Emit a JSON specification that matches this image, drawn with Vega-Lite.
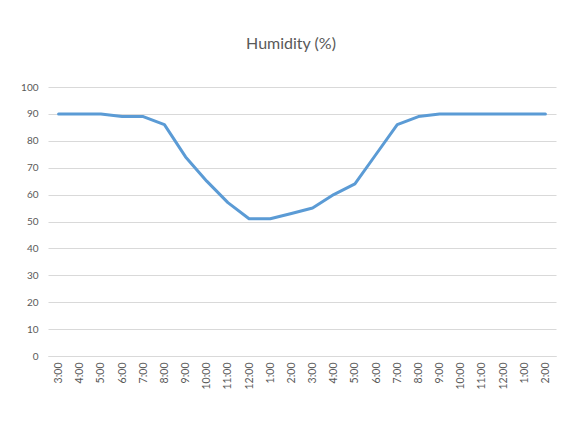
{
  "$schema": "https://vega.github.io/schema/vega-lite/v6.json",
  "autosize": {"type": "none"},
  "width": 508,
  "height": 269,
  "padding": {"left": 48, "top": 87, "right": 12, "bottom": 65},
  "background": "white",
  "title": {
    "text": "Humidity (%)",
    "font": "Lato",
    "fontSize": 16,
    "fontWeight": "normal",
    "color": "#595959",
    "anchor": "middle",
    "dx": -11,
    "offset": 30
  },
  "data": {
    "values": [
      {"time": "3:00 AM", "humidity": 90},
      {"time": "4:00 AM", "humidity": 90},
      {"time": "5:00 AM", "humidity": 90},
      {"time": "6:00 AM", "humidity": 89},
      {"time": "7:00 AM", "humidity": 89},
      {"time": "8:00 AM", "humidity": 86},
      {"time": "9:00 AM", "humidity": 74},
      {"time": "10:00 AM", "humidity": 65},
      {"time": "11:00 AM", "humidity": 57},
      {"time": "12:00 PM", "humidity": 51},
      {"time": "1:00 PM", "humidity": 51},
      {"time": "2:00 PM", "humidity": 53},
      {"time": "3:00 PM", "humidity": 55},
      {"time": "4:00 PM", "humidity": 60},
      {"time": "5:00 PM", "humidity": 64},
      {"time": "6:00 PM", "humidity": 75},
      {"time": "7:00 PM", "humidity": 86},
      {"time": "8:00 PM", "humidity": 89},
      {"time": "9:00 PM", "humidity": 90},
      {"time": "10:00 PM", "humidity": 90},
      {"time": "11:00 PM", "humidity": 90},
      {"time": "12:00 AM", "humidity": 90},
      {"time": "1:00 AM", "humidity": 90},
      {"time": "2:00 AM", "humidity": 90}
    ]
  },
  "mark": {"type": "line", "color": "#5B9BD5", "strokeWidth": 3, "strokeJoin": "round", "strokeCap": "round"},
  "encoding": {
    "x": {
      "field": "time",
      "type": "ordinal",
      "sort": null,
      "scale": {"type": "point", "padding": 0.5},
      "axis": {
        "title": null,
        "labelAngle": -90,
        "labelAlign": "right",
        "labelBaseline": "middle",
        "labelExpr": "split(datum.value, ' ')[0]",
        "labelFont": "Lato",
        "labelFontSize": 10.5,
        "labelColor": "#595959",
        "labelPadding": 6,
        "ticks": false,
        "domain": true,
        "domainColor": "#d9d9d9",
        "domainWidth": 1,
        "grid": false
      }
    },
    "y": {
      "field": "humidity",
      "type": "quantitative",
      "scale": {"domain": [0, 100], "nice": false},
      "axis": {
        "title": null,
        "values": [0, 10, 20, 30, 40, 50, 60, 70, 80, 90, 100],
        "labelFont": "Lato",
        "labelFontSize": 10,
        "labelColor": "#595959",
        "labelPadding": 10,
        "ticks": false,
        "domain": false,
        "grid": true,
        "gridColor": "#d9d9d9",
        "gridWidth": 1
      }
    }
  },
  "config": {"view": {"stroke": null}}
}
